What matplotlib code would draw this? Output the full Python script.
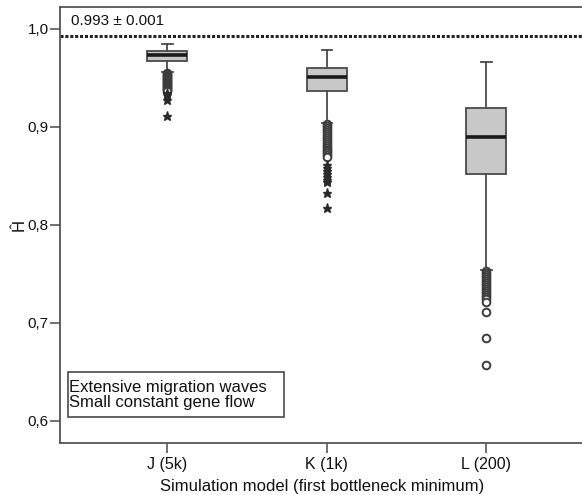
import matplotlib
matplotlib.use("Agg")
import matplotlib.pyplot as plt
from matplotlib.patches import Rectangle

plt.rcParams['font.family'] = ['Liberation Sans', 'DejaVu Sans']
plt.rcParams['text.color'] = '#111111'
plt.rcParams['axes.labelcolor'] = '#111111'

# categories and box statistics
categories = ["J (5k)", "K (1k)", "L (200)"]
whisker_low = [0.956, 0.904, 0.754]
q1 = [0.967, 0.937, 0.852]
median = [0.973, 0.951, 0.890]
q3 = [0.978, 0.960, 0.919]
whisker_high = [0.985, 0.979, 0.966]

# outliers (circles) and extremes (stars)
outliers_J = [0.955, 0.954, 0.953, 0.952, 0.951, 0.950, 0.949, 0.948, 0.947,
              0.946, 0.945, 0.944, 0.943, 0.942, 0.941, 0.940, 0.939, 0.938, 0.937]
extremes_J = [0.935, 0.933, 0.928, 0.911]
outliers_K = [0.903, 0.901, 0.899, 0.897, 0.895, 0.893, 0.891, 0.889, 0.887,
              0.885, 0.883, 0.881, 0.879, 0.877, 0.875, 0.873, 0.871, 0.869]
extremes_K = [0.861, 0.858, 0.855, 0.852, 0.849, 0.846, 0.844, 0.833, 0.817]
outliers_L = [0.753, 0.751, 0.749, 0.747, 0.745, 0.743, 0.741, 0.739, 0.737,
              0.735, 0.733, 0.731, 0.729, 0.727, 0.724, 0.721, 0.711, 0.685, 0.657]
extremes_L = []

observed_H = 0.993
observed_label = "0.993 \u00b1 0.001"
legend_lines = ["Extensive migration waves", "Small constant gene flow"]

outliers = [outliers_J, outliers_K, outliers_L]
extremes = [extremes_J, extremes_K, extremes_L]
positions = [1, 2, 3]

edge = '#4a4a4a'

fig = plt.figure(figsize=(5.82, 4.95), dpi=100)
ax = fig.add_axes([0.103, 0.105, 0.9, 0.881])

stats = []
for i, name in enumerate(categories):
    stats.append(dict(label=name, med=median[i], q1=q1[i], q3=q3[i],
                      whislo=whisker_low[i], whishi=whisker_high[i],
                      fliers=outliers[i]))

ax.bxp(stats, positions=positions, widths=0.25, capwidths=0.065,
       patch_artist=True,
       boxprops=dict(facecolor='#c8c8c8', edgecolor=edge, linewidth=1.3),
       medianprops=dict(color='#1a1a1a', linewidth=2.6),
       whiskerprops=dict(color=edge, linewidth=1.3),
       capprops=dict(color=edge, linewidth=1.3),
       flierprops=dict(marker='o', markersize=5.5, markerfacecolor='white',
                       markeredgecolor='#3c3c3c', markeredgewidth=1.4,
                       linestyle='none'))

for pos, ext in zip(positions, extremes):
    if ext:
        ax.plot([pos] * len(ext), ext, linestyle='none', marker='*',
                markersize=6.5, color='#2a2a2a')

# observed value line
ax.axhline(observed_H, color='#222222', linewidth=2.2, linestyle=(0, (1, 0.6)))
ax.text(0.022, 0.968, observed_label, transform=ax.transAxes, fontsize=11,
        ha='left', va='center')

# legend-like box
ax.add_patch(Rectangle((0.0153, 0.0596), 0.412, 0.1034, transform=ax.transAxes,
                       facecolor='white', edgecolor=edge, linewidth=1.2, zorder=3))
ax.text(0.018, 0.128, legend_lines[0], transform=ax.transAxes, fontsize=12,
        ha='left', va='center', zorder=4)
ax.text(0.018, 0.092, legend_lines[1], transform=ax.transAxes, fontsize=12,
        ha='left', va='center', zorder=4)

ax.set_xlim(0.327, 3.61)
ax.set_ylim(0.5775, 1.0225)
ax.set_yticks([0.6, 0.7, 0.8, 0.9, 1.0])
ax.set_yticklabels(['0,6', '0,7', '0,8', '0,9', '1,0'])
ax.set_xticks(positions)
ax.set_xticklabels(categories)

ax.tick_params(axis='y', labelsize=11, length=7, width=1.1, color=edge, pad=1,
               labelcolor='#111111')
ax.tick_params(axis='x', labelsize=11.5, length=7, width=1.1, color=edge, pad=3,
               labelcolor='#111111')

for side in ['left', 'bottom', 'top']:
    ax.spines[side].set_color('#555555')
    ax.spines[side].set_linewidth(1.3)
ax.spines['right'].set_visible(False)

ax.set_xlabel("Simulation model (first bottleneck minimum)", fontsize=12, labelpad=5)
ax.set_ylabel("\u0124", fontsize=12, labelpad=1)

fig.savefig("out.png", dpi=100)
